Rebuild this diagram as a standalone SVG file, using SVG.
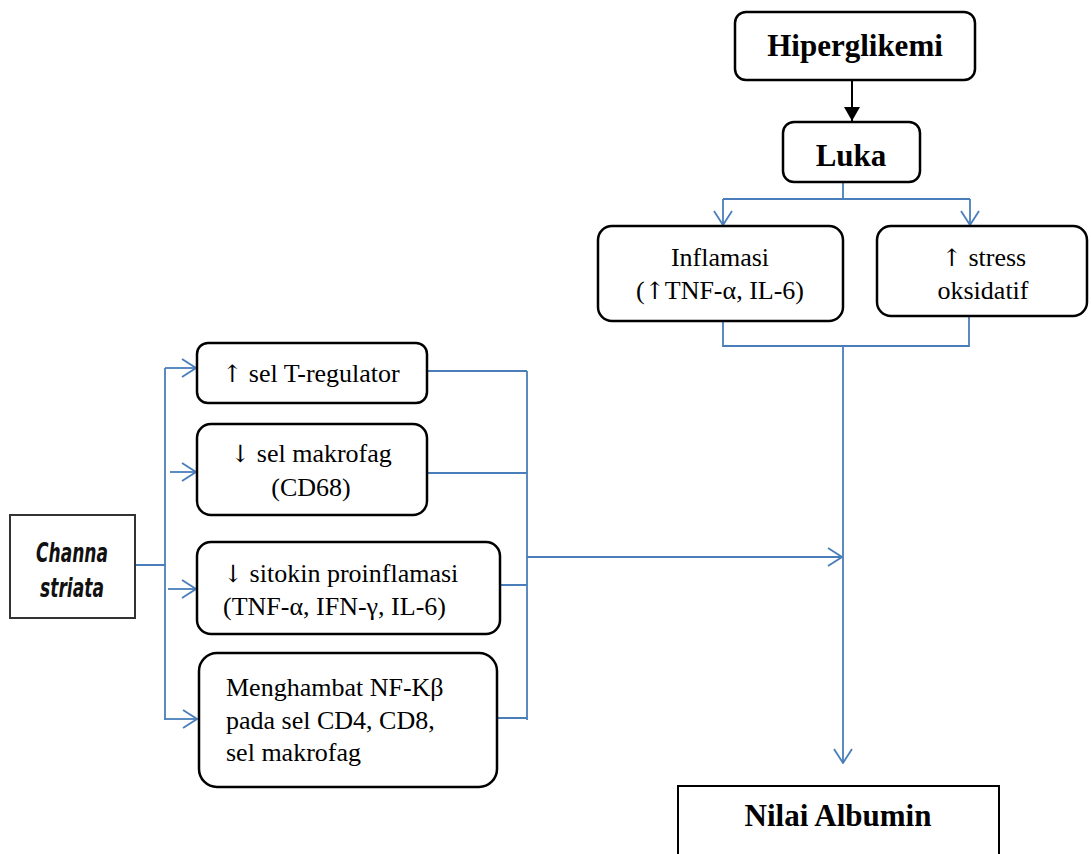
<svg xmlns="http://www.w3.org/2000/svg" width="1091" height="854" viewBox="0 0 1091 854">
  <style>
    .box { fill: #ffffff; stroke: #000000; stroke-width: 2.5; }
    .t { font-family: "Liberation Serif", "Times New Roman", serif; font-size: 26px; fill: #000000; }
    .tb { font-family: "Liberation Serif", "Times New Roman", serif; font-size: 31px; font-weight: bold; fill: #000000; }
    .c { text-anchor: middle; }
    .ar { font-family: "DejaVu Serif", serif; font-size: 24px; fill: #000000; }
    .link { fill: none; stroke: #4A7EBB; stroke-width: 1.8; }
    .arrow { fill: none; stroke: #4A7EBB; stroke-width: 1.8; marker-end: url(#open); }
    .ch { font-family: "DejaVu Sans", sans-serif; font-size: 27px; font-weight: bold; font-style: italic; fill: #111111; }
  </style>
  <defs>
    <marker id="open" markerUnits="userSpaceOnUse" markerWidth="16" markerHeight="22" viewBox="0 0 16 22" refX="15" refY="11" orient="auto">
      <path d="M1,2 L15,11 L1,20" fill="none" stroke="#4A7EBB" stroke-width="1.8"/>
    </marker>
    <marker id="solid" markerUnits="userSpaceOnUse" markerWidth="14" markerHeight="16" viewBox="0 0 14 16" refX="14" refY="8" orient="auto">
      <path d="M0,0 L14,8 L0,16 Z" fill="#000000"/>
    </marker>
  </defs>

  <rect width="1091" height="854" fill="#ffffff"/>

  <!-- connectors -->
  <g id="connectors">
    <line x1="852" y1="80" x2="852" y2="121" stroke="#000000" stroke-width="2" marker-end="url(#solid)"/>
    <!-- Luka splits into two branches -->
    <path class="link" d="M843,182 V199 M723,199 H970"/>
    <line class="arrow" x1="723" y1="199" x2="723" y2="225"/>
    <line class="arrow" x1="970" y1="199" x2="970" y2="225"/>
    <!-- branches merge and flow down to the result -->
    <path class="link" d="M723,321 V346 H969 V316"/>
    <line class="arrow" x1="843" y1="346" x2="843" y2="763"/>
    <!-- Channa striata fan-out -->
    <path class="link" d="M136,565 H165 M165,368 V720"/>
    <line class="arrow" x1="165" y1="368" x2="196" y2="368"/>
    <line class="arrow" x1="170" y1="472" x2="196" y2="472"/>
    <line class="arrow" x1="168" y1="589" x2="196" y2="589"/>
    <line class="arrow" x1="165" y1="719" x2="197" y2="719"/>
    <!-- mechanisms join -->
    <path class="link" d="M427,371 H527 M427,473 H527 M500,585 H527 M497,718 H527 M527,371 V720"/>
    <line class="arrow" x1="527" y1="557" x2="842" y2="557"/>
  </g>

  <g id="hiperglikemi">
    <rect class="box" x="735" y="12" width="240" height="68" rx="11"/>
    <text class="tb c" x="855" y="56">Hiperglikemi</text>
  </g>

  <g id="luka">
    <rect class="box" x="783" y="122" width="137" height="60" rx="11"/>
    <text class="tb c" x="851" y="166">Luka</text>
  </g>

  <g id="inflamasi">
    <rect class="box" x="598" y="226" width="245" height="95" rx="14"/>
    <text class="t c" x="720" y="266">Inflamasi</text>
    <text class="t c" x="720" y="299">(<tspan class="ar">↑</tspan>TNF-α, IL-6)</text>
  </g>

  <g id="stress">
    <rect class="box" x="877" y="226" width="210" height="90" rx="14"/>
    <text class="t c" x="984" y="266"><tspan class="ar">↑</tspan> stress</text>
    <text class="t c" x="983" y="299">oksidatif</text>
  </g>

  <g id="channa">
    <rect x="10" y="515" width="125" height="103" fill="#ffffff" stroke="#333333" stroke-width="2"/>
    <text class="ch c" x="72" y="562" textLength="72" lengthAdjust="spacingAndGlyphs">Channa</text>
    <text class="ch c" x="72" y="597" textLength="64" lengthAdjust="spacingAndGlyphs">striata</text>
  </g>

  <g id="t-regulator">
    <rect class="box" x="197" y="343" width="230" height="60" rx="11"/>
    <text class="t c" x="311" y="382"><tspan class="ar">↑</tspan> sel T-regulator</text>
  </g>

  <g id="makrofag">
    <rect class="box" x="197" y="424" width="230" height="91" rx="14"/>
    <text class="t c" x="311" y="462"><tspan class="ar">↓</tspan> sel makrofag</text>
    <text class="t c" x="311" y="496">(CD68)</text>
  </g>

  <g id="sitokin">
    <rect class="box" x="197" y="542" width="303" height="92" rx="14"/>
    <text class="t" x="223" y="582"><tspan class="ar">↓</tspan> sitokin proinflamasi</text>
    <text class="t" x="223" y="615">(TNF-α, IFN-γ, IL-6)</text>
  </g>

  <g id="nfkb">
    <rect class="box" x="199" y="653" width="298" height="134" rx="18"/>
    <text class="t" x="226" y="696">Menghambat NF-Kβ</text>
    <text class="t" x="226" y="729">pada sel CD4, CD8,</text>
    <text class="t" x="226" y="761">sel makrofag</text>
  </g>

  <g id="albumin">
    <rect x="678" y="786" width="321" height="80" fill="#ffffff" stroke="#000000" stroke-width="2"/>
    <text class="tb c" x="838" y="826">Nilai Albumin</text>
  </g>
</svg>
